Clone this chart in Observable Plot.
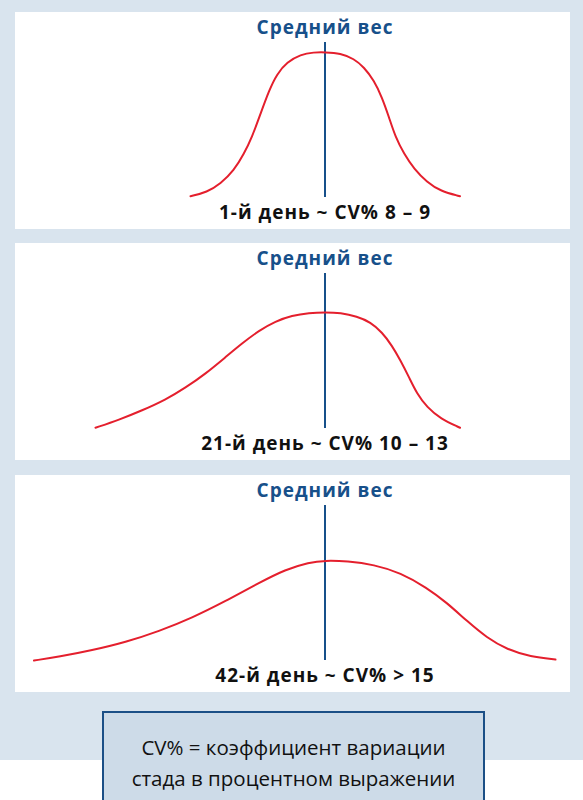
<!DOCTYPE html>
<html>
<head>
<meta charset="utf-8">
<script src="https://cdn.jsdelivr.net/npm/d3@7"></script>
<script src="https://cdn.jsdelivr.net/npm/@observablehq/plot@0.6"></script>
<style>
  html, body { margin: 0; padding: 0; background: #ffffff; }
  #page { position: relative; width: 583px; height: 800px; overflow: hidden; font-family: "Open Sans", sans-serif; }
  #bg { position: absolute; left: 0; top: 0; width: 583px; height: 760px; background: #d9e4ee; }
  .panel { position: absolute; left: 15px; width: 555px; height: 217px; background: #ffffff; }
  .panel svg text { letter-spacing: 1px; }
  #note { position: absolute; left: 102px; top: 711px; width: 379px; height: 100px; background: #cddbe8;
          border: 2px solid #1b4f86; box-sizing: content-box; text-align: center; color: #111;
          font-size: 20.5px; line-height: 31px; padding-top: 19px; }
</style>
</head>
<body>
<div id="page">
  <div id="bg"></div>
  <div class="panel" id="p1" style="top:12px"></div>
  <div class="panel" id="p2" style="top:243px"></div>
  <div class="panel" id="p3" style="top:475px"></div>
  <div id="note"></div>
</div>
<script>
// Labels
const meanLabel = "Средний вес";
const dayLabels = ["1-й день ~ CV% 8 – 9", "21-й день ~ CV% 10 – 13", "42-й день ~ CV% > 15"];
const noteLines = ["CV% = коэффициент вариации", "стада в процентном выражении"];
const meanWeight = 100; // weight as % of flock mean

// Day 1 distribution (weight % of mean, relative frequency)
const weight1 = [73.1, 76.4, 79.1, 81.8, 83.8, 85.4, 87.1, 88.8, 90.4, 92.4, 95.1, 97.8, 100, 103.1, 105.8, 107.8, 109.8, 111.4, 112.8, 114.1, 115.8, 117.8, 120.4, 123.1, 127.0];
const freq1   = [0.8, 3.4, 8.8, 17.4, 28.2, 38.9, 54.0, 69.0, 79.8, 87.3, 92.3, 93.7, 93.7, 93.1, 89.5, 84.1, 75.5, 64.7, 51.8, 38.9, 28.2, 18.5, 9.9, 4.1, 0.8];

// Day 21 distribution
const weight21 = [54.1, 58.8, 63.4, 68.1, 72.1, 76.1, 80.1, 83.4, 86.8, 90.1, 93.4, 96.8, 100.1, 103.1, 106.4, 109.1, 111.4, 113.4, 115.1, 116.8, 118.4, 120.4, 123.1, 127.0];
const freq21   = [0.5, 5.6, 11.6, 18.5, 26.3, 35.3, 46.0, 54.9, 63.2, 69.2, 72.9, 74.6, 75.0, 74.6, 72.3, 68.6, 62.1, 53.5, 43.9, 33.1, 22.4, 13.7, 6.3, 0.5];

// Day 42 distribution
const weight42 = [41.8, 46.8, 53.4, 60.1, 66.8, 73.4, 80.1, 86.8, 92.1, 96.8, 100.1, 104.4, 109.8, 115.1, 120.4, 124.4, 128.4, 132.4, 136.4, 141.1, 146.1];
const freq42   = [0.0, 2.4, 6.6, 11.8, 18.9, 27.5, 38.3, 50.1, 58.7, 63.4, 64.5, 64.1, 61.9, 56.6, 46.9, 37.2, 25.4, 14.6, 7.1, 2.4, 0.6];

const series = [
  {id: "p1", w: weight1, f: freq1, label: dayLabels[0]},
  {id: "p2", w: weight21, f: freq21, label: dayLabels[1]},
  {id: "p3", w: weight42, f: freq42, label: dayLabels[2]}
];

const red = "#e41f2d";
const blue = "#17508a";

for (const s of series) {
  const data = s.w.map((w, i) => ({w, f: s.f[i]}));
  const chart = Plot.plot({
    width: 555,
    height: 217,
    marginTop: 30,
    marginBottom: 32,
    marginLeft: 0,
    marginRight: 0,
    style: {background: "#ffffff", fontFamily: "'Open Sans', sans-serif", overflow: "visible"},
    x: {domain: [38.1, 149.1], axis: null},
    y: {domain: [0, 100], axis: null},
    marks: [
      Plot.ruleX([meanWeight], {x: d => d, y1: 0, y2: 100, stroke: blue, strokeWidth: 2}),
      Plot.line(data, {x: "w", y: "f", stroke: red, strokeWidth: 2, curve: "basis"}),
      Plot.text([meanLabel], {x: meanWeight, frameAnchor: "top", dy: -15, text: d => d, fill: blue,
        fontWeight: "bold", fontSize: 19, textAnchor: "middle", lineAnchor: "middle"}),
      Plot.text([s.label], {x: meanWeight, frameAnchor: "bottom", dy: 15, text: d => d, fill: "#111111",
        fontWeight: "bold", fontSize: 19, textAnchor: "middle", lineAnchor: "middle"})
    ]
  });
  document.getElementById(s.id).appendChild(chart);
}
document.getElementById("note").innerHTML = noteLines.join("<br>");
</script>
</body>
</html>
